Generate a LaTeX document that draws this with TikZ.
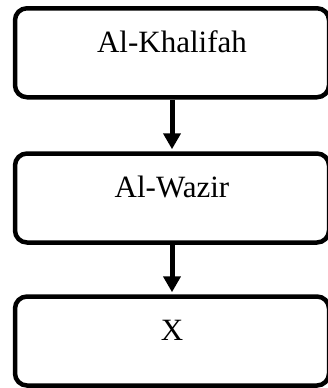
\documentclass[tikz,border=0pt]{standalone}
\usepackage{fontspec}
\setmainfont{Liberation Serif}
\usepackage{tikz}
\usetikzlibrary{arrows.meta}
\tikzset{
    rank/.style={draw, line width=4.5pt, rounded corners=12pt, inner sep=0pt,
        minimum width=314pt, text height=44pt, text depth=45pt,
        font=\fontsize{31}{37}\selectfont},
    flow/.style={line width=5pt, -{Triangle[width=17pt,length=16pt]}, shorten >=2pt}
}

\begin{document}
\begin{tikzpicture}[x=1pt, y=1pt]
        \useasboundingbox (0, 0) rectangle (327, -388);
        \node[rank] (khalifah) at (172, -52.75) {Al-Khalifah};
        \node[rank] (wazir) at (172, -198) {Al-Wazir};
        \node[rank] (x) at (172, -341) {X};
        \draw[flow] (khalifah) -- (wazir);
        \draw[flow] (wazir) -- (x);
    \end{tikzpicture}
\end{document}
